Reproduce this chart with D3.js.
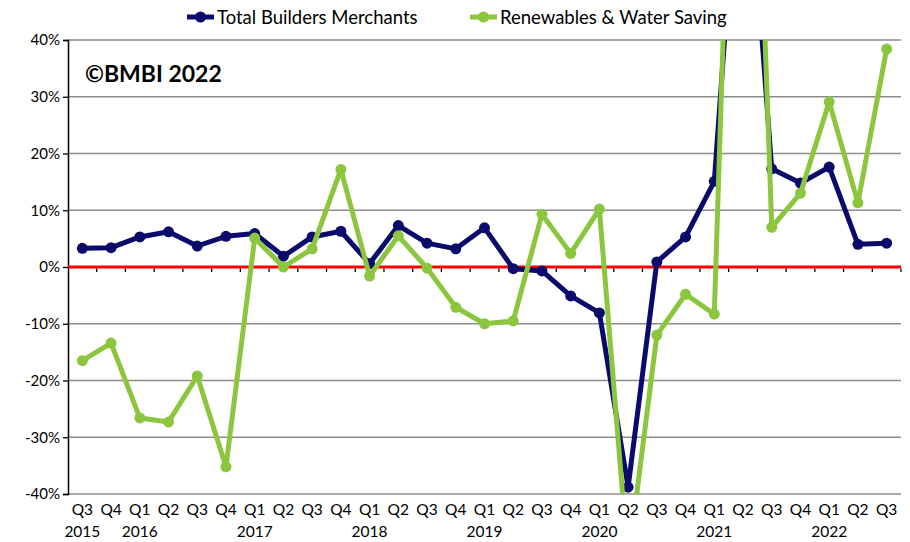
<!DOCTYPE html>
<html>
<head>
<meta charset="utf-8">
<script src="https://cdn.jsdelivr.net/npm/d3@7"></script>
<style>
  html, body { margin: 0; padding: 0; background: #fff; }
  svg { display: block; font-family: Lato, "Open Sans", sans-serif; }
</style>
</head>
<body>
<svg id="chart" width="910" height="542"></svg>
<script>
// Quarterly year-on-year value sales change, Q3 2015 – Q3 2022
const quarters = ["Q3","Q4","Q1","Q2","Q3","Q4","Q1","Q2","Q3","Q4","Q1","Q2","Q3","Q4",
                  "Q1","Q2","Q3","Q4","Q1","Q2","Q3","Q4","Q1","Q2","Q3","Q4","Q1","Q2","Q3"];
// year label is drawn under the column given here
const yearCols = [0, 2, 6, 10, 14, 18, 22, 26];
const yearLabels = ["2015","2016","2017","2018","2019","2020","2021","2022"];

const totalBM = [3.3, 3.4, 5.3, 6.2, 3.7, 5.4, 5.9, 1.9, 5.3, 6.3,
                 0.6, 7.3, 4.2, 3.2, 6.9, -0.3, -0.7, -5.1, -8.1, -38.8,
                 0.9, 5.3, 15.1, 85, 17.3, 14.8, 17.6, 4.0, 4.2];
const renewables = [-16.5, -13.4, -26.6, -27.3, -19.2, -35.2, 5.1, 0.0, 3.2, 17.2,
                    -1.6, 5.5, -0.2, -7.1, -10.0, -9.5, 9.3, 2.4, 10.2, -52,
                    -12.0, -4.8, -8.3, 150, 7.0, 13.0, 29.1, 11.3, 38.4];
const yTicks = [-40, -30, -20, -10, 0, 10, 20, 30, 40];

const seriesNames = ["Total Builders Merchants", "Renewables & Water Saving"];
const seriesColors = ["#0b0b6c", "#8cc63f"];

const svg = d3.select("#chart");
const m = { left: 68, right: 901, top: 40, bottom: 494 };

const x = d3.scaleBand().domain(d3.range(quarters.length)).range([m.left, m.right]).padding(0);
const y = d3.scaleLinear().domain([-40, 40]).range([m.bottom, m.top]);
const cx = i => x(i) + x.bandwidth() / 2;

// horizontal gridlines
svg.append("g").selectAll("line").data(yTicks).join("line")
  .attr("x1", m.left).attr("x2", m.right)
  .attr("y1", d => y(d)).attr("y2", d => y(d))
  .attr("stroke", "#8c8c8c").attr("stroke-width", 1.3);

// y axis
const yAxis = d3.axisLeft(y).tickValues(yTicks).tickSize(5).tickFormat(d => d + "%");
const gy = svg.append("g").attr("transform", `translate(${m.left},0)`).call(yAxis);
gy.select(".domain").attr("stroke", "#000").attr("stroke-width", 1.5);
gy.selectAll(".tick line").attr("stroke", "#000").attr("stroke-width", 1.3);
gy.selectAll(".tick text").attr("font-size", 15).attr("fill", "#000")
  .attr("font-family", "Lato, sans-serif").attr("x", -8);

// zero line in red
svg.append("line")
  .attr("x1", m.left).attr("x2", m.right)
  .attr("y1", y(0)).attr("y2", y(0))
  .attr("stroke", "#ff0000").attr("stroke-width", 3);

// category tick marks along the zero line
svg.append("g").selectAll("line").data(d3.range(1, quarters.length + 1)).join("line")
  .attr("x1", i => m.left + i * x.bandwidth()).attr("x2", i => m.left + i * x.bandwidth())
  .attr("y1", y(0) + 1.5).attr("y2", y(0) + 5)
  .attr("stroke", "#000").attr("stroke-width", 1.3);

// quarter and year labels
svg.append("g").selectAll("text").data(quarters).join("text")
  .attr("x", (d, i) => cx(i)).attr("y", 515)
  .attr("text-anchor", "middle").attr("font-size", 15.5).attr("fill", "#000")
  .text(d => d);
svg.append("g").selectAll("text").data(yearLabels).join("text")
  .attr("x", (d, i) => cx(yearCols[i])).attr("y", 537)
  .attr("text-anchor", "middle").attr("font-size", 15.5).attr("fill", "#000")
  .text(d => d);

// plot-area clip so extreme quarters run off the frame
svg.append("clipPath").attr("id", "plotClip").append("rect")
  .attr("x", m.left).attr("y", m.top)
  .attr("width", m.right - m.left).attr("height", m.bottom - m.top);

const line = d3.line().x((d, i) => cx(i)).y(d => y(d));
const plot = svg.append("g").attr("clip-path", "url(#plotClip)");

[totalBM, renewables].forEach((vals, k) => {
  plot.append("path").datum(vals)
    .attr("d", line).attr("fill", "none")
    .attr("stroke", seriesColors[k]).attr("stroke-width", 5)
    .attr("stroke-linejoin", "round");
  plot.append("g").selectAll("circle").data(vals).join("circle")
    .attr("cx", (d, i) => cx(i)).attr("cy", d => y(d)).attr("r", 5.5)
    .attr("fill", seriesColors[k]);
});

// legend
const legendX = [187, 470];
seriesNames.forEach((name, k) => {
  const g = svg.append("g").attr("transform", `translate(${legendX[k]},17)`);
  g.append("line").attr("x1", 0).attr("x2", 27).attr("y1", 0).attr("y2", 0)
    .attr("stroke", seriesColors[k]).attr("stroke-width", 5);
  g.append("circle").attr("cx", 13.5).attr("cy", 0).attr("r", 5.5).attr("fill", seriesColors[k]);
  g.append("text").attr("x", 30).attr("y", 6.5).attr("font-size", 18.5).attr("fill", "#000")
    .text(name);
});

// copyright note
svg.append("text").attr("x", 85).attr("y", 82)
  .attr("font-size", 23).attr("font-weight", "bold").attr("fill", "#000")
  .text("©BMBI 2022");
</script>
</body>
</html>
